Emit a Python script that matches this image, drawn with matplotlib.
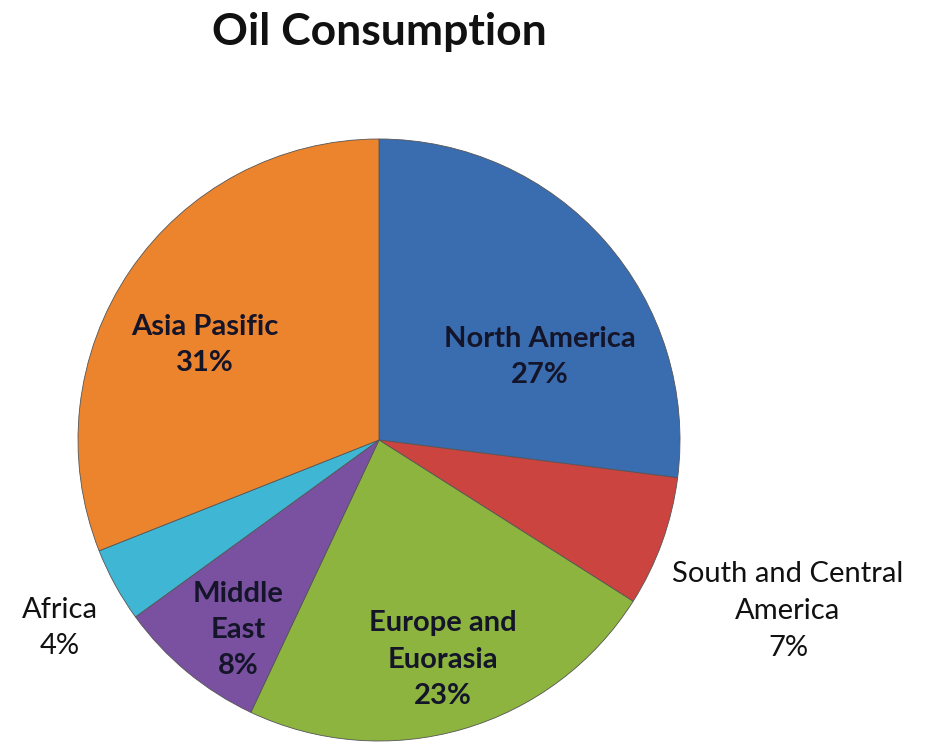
import matplotlib
matplotlib.use("Agg")
import matplotlib.pyplot as plt

categories = ["North America", "South and Central America", "Europe and Euorasia",
              "Middle East", "Africa", "Asia Pasific"]
values = [27, 7, 23, 8, 4, 31]
label_texts = ["North America\n27%", "South and Central\nAmerica\n7%",
               "Europe and\nEuorasia\n23%", "Middle\nEast\n8%", "Africa\n4%",
               "Asia Pasific\n31%"]
colors = ["#3A6DB0", "#CC4440", "#8CB43E", "#7A50A0", "#3EB6D4", "#EC842E"]

plt.rcParams['font.family'] = ['Lato', 'DejaVu Sans']

W, H = 928, 746
fig = plt.figure(figsize=(W / 100, H / 100), dpi=100)
ax = fig.add_axes([0, 0, 1, 1])
ax.set_xlim(0, W)
ax.set_ylim(0, H)
ax.set_aspect('equal')
ax.axis('off')

cx, cy, r = 379, H - 440, 301
wedges, _ = ax.pie(values, colors=colors, startangle=90, counterclock=False,
                   center=(cx, cy), radius=r, frame=True,
                   wedgeprops=dict(edgecolor='#555555', linewidth=0.6))
ax.set_xlim(0, W)
ax.set_ylim(0, H)
ax.axis('off')

# label positions (pixels, top-left origin) and styles
pos = [(540, 357), (788, 611), (443, 660), (238, 630), (60, 628), (205, 345)]
inside = [True, False, True, True, False, True]
for txt, (x, y), ins in zip(label_texts, pos, inside):
    ax.text(x, H - y, txt, ha='center', va='center', fontsize=21,
            fontweight='bold' if ins else 'normal',
            color='#15152a' if ins else '#111111', linespacing=1.5)

fig.text(379 / W, 1 - 32 / H, "Oil Consumption", ha='center', va='center',
         fontsize=32, fontweight='bold', color='#111111')

fig.savefig("out.png", dpi=100)
